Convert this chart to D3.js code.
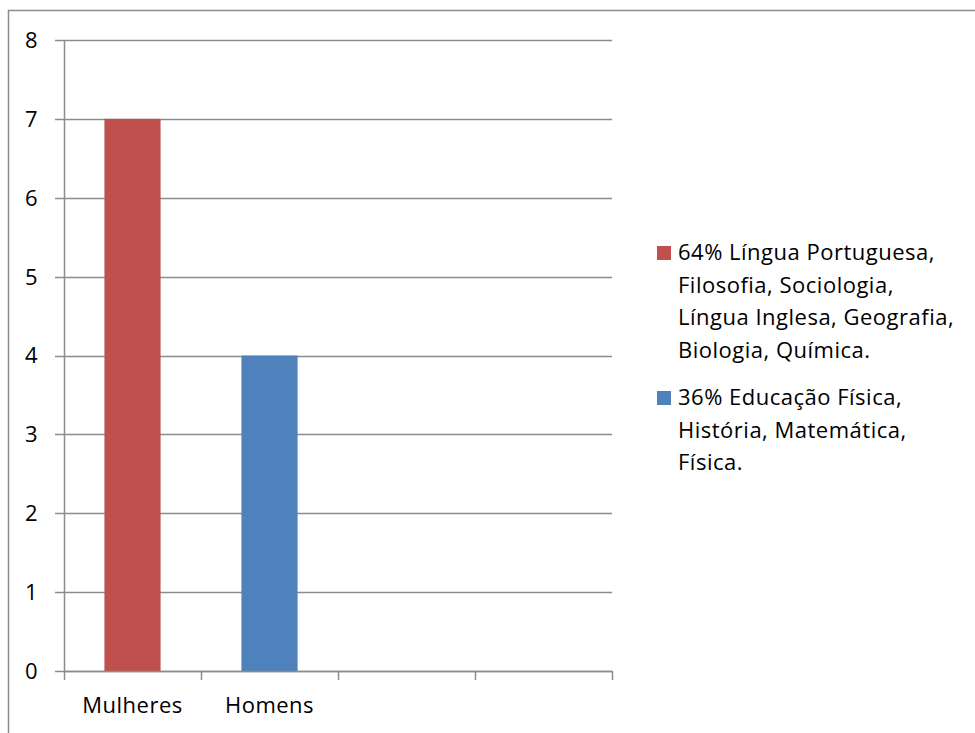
<!DOCTYPE html>
<html>
<head>
<meta charset="utf-8">
<script src="https://cdn.jsdelivr.net/npm/d3@7"></script>
<style>
  html, body { margin: 0; padding: 0; background: #fff; }
  svg { display: block; }
  text { font-family: "Open Sans", Lato, sans-serif; fill: #000; letter-spacing: 0.5px; }
</style>
</head>
<body>
<svg id="chart" width="975" height="733"></svg>
<script>
// Categories along the x axis (two empty slots follow the named ones)
const categories = ["Mulheres", "Homens", "", ""];
// Bar values per category
const values = [7, 4, null, null];
// Bar colours per category
const barColors = ["#C0504D", "#4F81BD", null, null];
// Y axis ticks
const yTicks = [0, 1, 2, 3, 4, 5, 6, 7, 8];
// Legend entries, already broken into lines
const legendLines = [
  ["64% Língua Portuguesa,", "Filosofia, Sociologia,", "Língua Inglesa, Geografia,", "Biologia, Química."],
  ["36% Educação Física,", "História, Matemática,", "Física."]
];
const legendColors = ["#C0504D", "#4F81BD"];

const svg = d3.select("#chart");
const W = 975, H = 733;
const plot = { left: 64, right: 612, top: 40, bottom: 671 };
const gridColor = "#8c8c8c";
const fontSize = "22px";

// Outer chart frame (open at right and bottom edges of the page)
svg.append("path")
  .attr("d", `M8.5,${H} L8.5,10.5 L${W},10.5`)
  .attr("fill", "none").attr("stroke", "#8c8c8c").attr("stroke-width", 1.5);

const x = d3.scaleBand()
  .domain(categories.map((c, i) => i))
  .range([plot.left, plot.right])
  .paddingInner(0.59).paddingOuter(0.295);

const xOuter = d3.scaleBand()
  .domain(categories.map((c, i) => i))
  .range([plot.left, plot.right]);

const y = d3.scaleLinear().domain([0, 8]).range([plot.bottom, plot.top]);

// Horizontal gridlines
svg.append("g")
  .selectAll("line")
  .data(yTicks)
  .join("line")
  .attr("x1", plot.left - 9).attr("x2", plot.right)
  .attr("y1", d => Math.round(y(d)) + 0.5).attr("y2", d => Math.round(y(d)) + 0.5)
  .attr("stroke", gridColor).attr("stroke-width", 1.5);

// Y tick labels
svg.append("g")
  .selectAll("text")
  .data(yTicks)
  .join("text")
  .attr("x", 38).attr("y", d => y(d))
  .attr("dy", "0.36em")
  .attr("text-anchor", "end")
  .style("font-size", fontSize)
  .text(d => d);

// Bars
svg.append("g")
  .selectAll("rect")
  .data(values.map((v, i) => ({ v, i })).filter(d => d.v != null))
  .join("rect")
  .attr("x", d => x(d.i))
  .attr("width", x.bandwidth())
  .attr("y", d => y(d.v))
  .attr("height", d => y(0) - y(d.v))
  .attr("fill", d => barColors[d.i]);

// Y axis line
svg.append("line")
  .attr("x1", plot.left + 0.5).attr("x2", plot.left + 0.5)
  .attr("y1", plot.top).attr("y2", plot.bottom)
  .attr("stroke", gridColor).attr("stroke-width", 1.5);

// X axis line and category ticks
const xTickPos = categories.map((c, i) => xOuter(i)).concat([plot.right]);
svg.append("line")
  .attr("x1", plot.left).attr("x2", plot.right)
  .attr("y1", Math.round(y(0)) + 0.5).attr("y2", Math.round(y(0)) + 0.5)
  .attr("stroke", gridColor).attr("stroke-width", 1.5);
svg.append("g")
  .selectAll("line")
  .data(xTickPos)
  .join("line")
  .attr("x1", d => Math.round(d) + 0.5).attr("x2", d => Math.round(d) + 0.5)
  .attr("y1", y(0)).attr("y2", y(0) + 9)
  .attr("stroke", gridColor).attr("stroke-width", 1.5);

// Category labels
svg.append("g")
  .selectAll("text")
  .data(categories)
  .join("text")
  .attr("x", (d, i) => xOuter(i) + xOuter.bandwidth() / 2)
  .attr("y", 713)
  .attr("text-anchor", "middle")
  .style("font-size", fontSize)
  .text(d => d);

// Legend
const legendTop = [260, 405];
const lineGap = 32.7;
legendLines.forEach((lines, k) => {
  const g = svg.append("g");
  g.append("rect")
    .attr("x", 657).attr("y", legendTop[k] - 14)
    .attr("width", 14).attr("height", 14)
    .attr("fill", legendColors[k]);
  g.selectAll("text")
    .data(lines)
    .join("text")
    .attr("x", 678)
    .attr("y", (d, i) => legendTop[k] + i * lineGap)
    .style("font-size", fontSize)
    .text(d => d);
});
</script>
</body>
</html>
